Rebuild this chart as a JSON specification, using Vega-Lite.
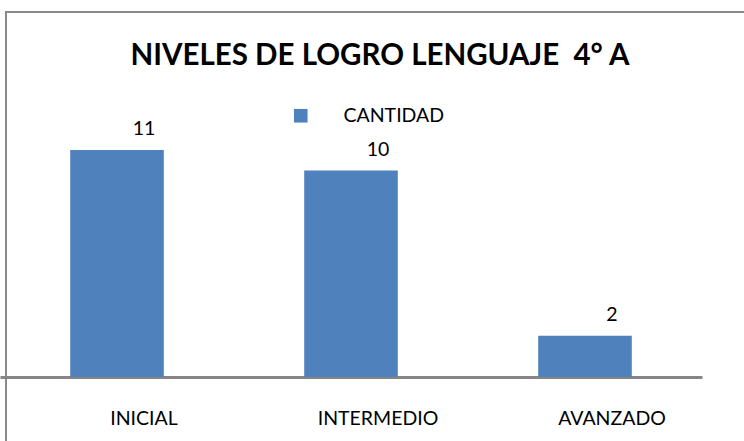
{
  "$schema": "https://vega.github.io/schema/vega-lite/v6.json",
  "autosize": "none",
  "padding": {"left": 6, "top": 12, "right": 0, "bottom": 0},
  "width": 748,
  "height": 440,
  "background": "white",
  "config": {
    "font": "Lato",
    "view": {"stroke": "#898989", "strokeWidth": 2}
  },
  "title": {
    "text": "NIVELES DE LOGRO LENGUAJE\u00a0 4° A",
    "font": "Lato",
    "fontSize": 29.5,
    "fontWeight": "bold",
    "color": "black",
    "anchor": "middle",
    "baseline": "alphabetic",
    "offset": -82
  },
  "data": {
    "values": [
      {"nivel": "INICIAL", "cantidad": 11, "serie": "CANTIDAD"},
      {"nivel": "INTERMEDIO", "cantidad": 10, "serie": "CANTIDAD"},
      {"nivel": "AVANZADO", "cantidad": 2, "serie": "CANTIDAD"}
    ]
  },
  "encoding": {
    "x": {
      "field": "nivel",
      "type": "nominal",
      "sort": null,
      "scale": {"range": [-6, 696], "paddingInner": 0.6, "paddingOuter": 0.3},
      "axis": {
        "title": null,
        "labelAngle": 0,
        "domainColor": "#868686",
        "domainWidth": 3,
        "ticks": false,
        "grid": false,
        "labelFont": "Lato",
        "labelFontSize": 19.5,
        "labelColor": "black",
        "labelPadding": 47,
        "labelBaseline": "alphabetic",
        "labelOffset": 27,
        "offset": -75
      }
    },
    "y": {
      "field": "cantidad",
      "type": "quantitative",
      "scale": {"domain": [0, 17.68], "range": [365, 0], "nice": false, "zero": true},
      "axis": null
    }
  },
  "layer": [
    {
      "mark": {"type": "bar"},
      "encoding": {
        "color": {
          "field": "serie",
          "type": "nominal",
          "scale": {"range": ["#4F81BD"]},
          "legend": {
            "title": null,
            "orient": "none",
            "legendX": 285,
            "legendY": 94,
            "symbolType": "square",
            "symbolSize": 185,
            "symbolStrokeWidth": 0,
            "labelFont": "Lato",
            "labelFontSize": 19.5,
            "labelColor": "black",
            "labelOffset": 33,
            "padding": 0
          }
        }
      }
    },
    {
      "mark": {
        "type": "text",
        "align": "center",
        "baseline": "alphabetic",
        "dx": 27,
        "dy": -15,
        "fontSize": 19.5,
        "font": "Lato",
        "color": "black"
      },
      "encoding": {"text": {"field": "cantidad", "type": "quantitative"}}
    }
  ]
}
